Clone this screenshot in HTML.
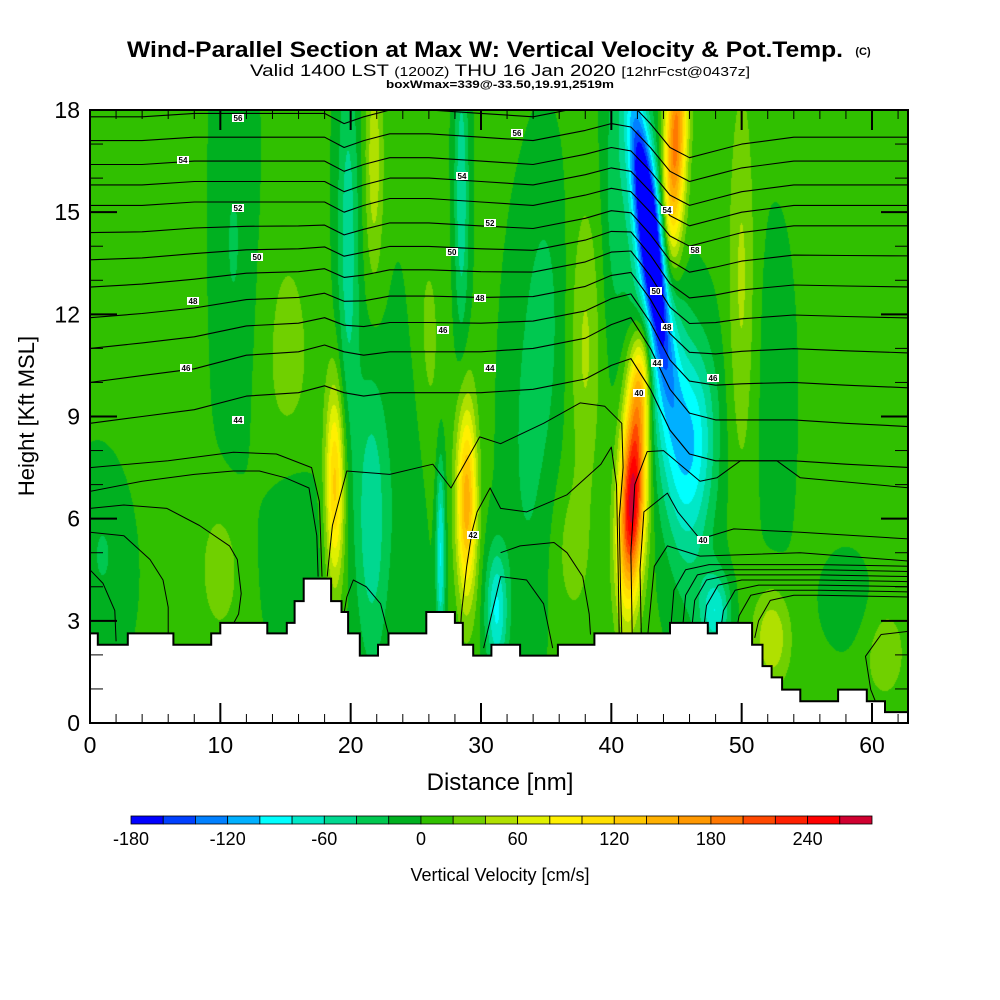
<!DOCTYPE html>
<html><head><meta charset="utf-8">
<style>
html,body{margin:0;padding:0;background:#fff;}
#wrap{position:relative;width:1000px;height:1000px;overflow:hidden;font-family:"Liberation Sans",Arial,sans-serif;}
#field{position:absolute;left:0;top:0;}
#ov{position:absolute;left:0;top:0;}
</style></head>
<body>
<div id="wrap">
<canvas id="field" width="1000" height="1000"></canvas>
<svg id="ov" width="1000" height="1000" xmlns="http://www.w3.org/2000/svg">
  <defs><clipPath id="plotclip"><rect x="90" y="110" width="818" height="613"/></clipPath></defs>
  <text x="127" y="57" textLength="716" lengthAdjust="spacingAndGlyphs" font-size="22" font-weight="bold" font-family="Liberation Sans, Arial, sans-serif">Wind-Parallel Section at Max W: Vertical Velocity &amp; Pot.Temp.</text>
  <text x="863" y="55" text-anchor="middle" font-size="11" font-weight="bold" font-family="Liberation Sans, Arial, sans-serif">(C)</text>
  <text x="250" y="76" textLength="500" lengthAdjust="spacingAndGlyphs" font-size="17" font-family="Liberation Sans, Arial, sans-serif">Valid 1400 LST <tspan font-size="13">(1200Z)</tspan> THU 16 Jan 2020 <tspan font-size="13">[12hrFcst@0437z]</tspan></text>
  <text x="386" y="88" textLength="228" lengthAdjust="spacingAndGlyphs" font-size="11" font-weight="bold" font-family="Liberation Sans, Arial, sans-serif">boxWmax=339@-33.50,19.91,2519m</text>
  <g id="contours" clip-path="url(#plotclip)"></g>
  <g id="clabels"></g>
  <g id="terrain" clip-path="url(#plotclip)"></g>
  <rect x="90" y="110" width="818" height="613" fill="none" stroke="#000" stroke-width="2"/>
  <g id="ticks"></g>
  <g id="xlabels"></g>
  <g id="ylabels"></g>
  <text x="500" y="790" text-anchor="middle" font-size="24" font-family="Liberation Sans, Arial, sans-serif">Distance [nm]</text>
  <text transform="translate(34,416) rotate(-90)" text-anchor="middle" font-size="22" font-family="Liberation Sans, Arial, sans-serif">Height [Kft MSL]</text>
  <g id="cbar"></g>
  <text x="500" y="881" text-anchor="middle" font-size="18" font-family="Liberation Sans, Arial, sans-serif">Vertical Velocity [cm/s]</text>
</svg>
</div>
<script>
// ---------- data ----------
const cbarLevels = [-180,-160,-140,-120,-100,-80,-60,-40,-20,0,20,40,60,80,100,120,140,160,180,200,220,240,260];
const cbarColors = ['#0000ff','#0040ff','#0080ff','#00b0ff','#00ffff','#00e8c8','#00d890','#00c850','#00b020','#30c000','#70d000','#b0e000','#e0f000','#fff000','#ffe000','#ffc800','#ffb000','#ff9800','#ff7800','#ff4800','#ff2000','#ff0000','#d00030'];
const cbarTickLabels = [-180,-120,-60,0,60,120,180,240];
const xTickLabels = [0,10,20,30,40,50,60];
const yTickLabels = [0,3,6,9,12,15,18];

// vertical-velocity features (cm/s)
const baseW = 3;
const featD   = [41.6,42.2,42.9,43.8,46.5,44.9,50.0,18.8,28.9,21.6,26.9,31.2,19.8,21.8,28.5,25.8,15.2,4.0,10.0,58.0,52.3,38.0,37.0,48.0,11.0,15.5,1.0,24.5,33.5,40.2,53.0,58.0,35.0,61.0];
const featH   = [6.5,10.0,14.5,11.0,8.5,17.0,13.0,7.0,6.5,6.0,5.0,3.3,14.0,16.5,15.5,11.0,10.5,13.0,4.5,11.0,2.5,11.0,5.0,3.3,14.0,5.5,5.0,7.0,8.0,15.0,10.0,3.8,12.0,2.0];
const featSD  = [0.7,0.6,0.65,1.3,1.2,0.6,0.7,0.5,0.55,0.9,0.25,0.6,0.6,0.5,0.4,1.0,1.5,3.0,1.2,4.0,1.0,0.8,1.0,0.8,1.2,1.5,1.5,1.0,1.2,0.6,1.5,1.5,1.0,1.2];
const featSH  = [2.0,1.3,2.6,4.5,2.0,2.5,4.0,2.0,2.0,3.0,2.0,1.3,4.0,2.5,3.0,3.0,3.0,4.0,1.5,6.0,1.0,3.0,1.5,0.8,4.0,2.0,2.0,4.0,4.0,3.0,4.0,1.2,3.0,1.0];
const featAmp = [270,110,-210,-85,-75,190,40,125,150,-60,-85,-85,-55,50,-60,25,25,12,28,16,55,40,25,-75,-25,-25,-25,-25,-25,-25,-20,-25,-25,25];
const featTilt= [0.1,0.1,-0.3,-0.3,0,0.1,0,0,0,0,0,0,0,0,0,0,0,0,0,0,0,0,0,0,0,0,0,0,0,0,0,0,0,0];

// terrain steps
const terrD = [0,0.6,2.9,6.4,9.3,10.0,13.6,15.1,15.7,16.4,18.5,19.3,19.8,20.7,22.1,22.9,25.8,28.0,28.6,29.4,30.8,33.0,35.9,38.7,44.5,47.4,48.1,50.8,51.6,52.3,53.1,54.5,57.4,59.6,61.0];
const terrH = [2.63,2.30,2.63,2.30,2.63,2.94,2.63,2.94,3.58,4.24,3.58,3.26,2.63,1.98,2.30,2.63,3.26,2.94,2.30,1.98,2.30,1.98,2.30,2.63,2.94,2.63,2.94,2.30,1.67,1.34,0.98,0.64,0.98,0.64,0.32];

// potential temperature contours
const thetaBaseH = [17.8,17.1,16.4,15.8,15.2,14.4,13.6,12.8,11.9,11.0,10.0,8.8];
const profD   = [0,4,8,12,16,18,19.5,21,23,26,30,34,38,40,41.5,43,44.5,46,48,50,54,58,63];
const profUp  = [0,0,0.1,0.1,0.1,0.1,-0.2,0,0.2,0.2,0.1,0,0.3,0.5,0.4,-0.2,-0.9,-1.2,-1.0,-0.8,-0.6,-0.6,-0.6];
const profMid = [0,0.2,0.4,0.8,0.9,1.1,0.9,0.8,0.9,0.9,0.9,1.0,1.3,1.7,1.9,1.0,-0.2,-0.9,-1.1,-1.1,-1.1,-1.2,-1.3];
const lowLines = [
 [[0,7.5],[6,7.7],[11,7.95],[14.3,7.9],[17,7.5],[17.6,6.5],[17.8,4.3]],
 [[18.2,4.3],[18.6,5.8],[19.7,7.4],[23,7.3],[26.3,7.6],[27.7,6.9],[29.9,8.4],[31.5,8.2],[34.8,8.8],[37.6,9.4],[39.5,9.3],[40.8,8.8],[40.9,7.5],[40.6,6],[40.7,4],[40.8,2.6]],
 [[0,6.8],[4,7.1],[8,7.3],[11,7.4],[13,7.4],[15,7.2],[16.8,6.9],[17.4,5.5],[17.5,4.3]],
 [[0,6.3],[2.6,6.4],[5.9,6.3],[8.4,5.8],[10.7,5.2],[11.3,4.8],[11.6,3.8],[11.4,3.2],[10.7,2.7]],
 [[0,5.6],[2.6,5.5],[4.6,4.8],[5.6,4.2],[6.0,3.4],[6.0,2.4]],
 [[0,4.5],[1,4.1],[1.9,3.3],[2.0,2.4]],
 [[19.4,3.0],[19.7,3.7],[20.2,4.2],[21.2,4.0],[22.3,3.5],[22.9,2.6]],
 [[28.4,2.6],[28.5,3.2],[28.9,4.6],[29.3,5.6],[29.7,6.2],[30.7,6.9],[31.5,6.3],[33.5,6.2],[36.6,6.7],[39.2,7.6],[40,8.1],[40.4,7],[40.5,5],[40.6,2.6]],
 [[31.5,5.0],[33,5.2],[35.6,5.3],[36.6,5.0],[37.8,4.3],[38.3,3.2],[38.4,2.6]],
 [[30.2,2.2],[31.5,4.3],[33.5,4.2],[34.8,3.5],[35.5,2.2]],
 [[41.6,2.6],[41.5,5],[41.8,7],[42.75,7.97],[44,8.0],[46.8,7.1],[48.1,7.2],[49.9,7.7],[52.7,7.7],[54.5,7.2],[63,6.9]],
 [[42.3,2.6],[42.2,4.5],[42.5,6.2],[44.3,6.75],[45.1,6.2],[46.8,5.4],[49.4,5.7],[54.5,5.6],[63,5.4]],
 [[42.8,2.6],[43.3,4.6],[44.3,5.2],[46.8,4.9],[54.5,5.0],[63,4.75]],
 [[63,2.7],[60.7,2.6],[59.5,1.96],[59.9,0.98],[60.3,0.6]]
];
const clusterStartD = [44.5,45.4,46.1,47.0,48.3,49.5,51.0];
const clusterRightH = [4.6,4.45,4.3,4.15,4.0,3.85,3.7];

// ---------- axes ----------
const X0=90, X1=908, Y0=723, Y1=110;
const xPerNm = (872-90)/60, yPerKft = (723-110)/18;
const xs = d => X0 + d*xPerNm;
const ys = h => Y0 - h*yPerKft;
const SVGNS='http://www.w3.org/2000/svg';
function mk(tag, attrs, parent){const e=document.createElementNS(SVGNS,tag);for(const k in attrs)e.setAttribute(k,attrs[k]);parent.appendChild(e);return e;}

// ---------- field ----------
(function(){
  const cv=document.getElementById('field'); const ctx=cv.getContext('2d');
  const rgb=cbarColors.map(c=>[parseInt(c.substr(1,2),16),parseInt(c.substr(3,2),16),parseInt(c.substr(5,2),16)]);
  const W=X1-X0, H=Y0-Y1;
  const img=ctx.createImageData(W,H);
  for(let py=0;py<H;py++){
    const h=(Y0-(Y1+py+0.5))/yPerKft;
    for(let px=0;px<W;px++){
      const d=(px+0.5)/xPerNm;
      let v=baseW;
      for(let k=0;k<featD.length;k++){
        const dh=h-featH[k];
        const cd=featD[k]+featTilt[k]*dh;
        const a=(d-cd)/featSD[k], b=dh/featSH[k];
        const e=(a*a+b*b)*0.5;
        if(e<12) v+=featAmp[k]*Math.exp(-e);
      }
      let idx=Math.floor((v+180)/20); if(idx<0)idx=0; if(idx>22)idx=22;
      const c=rgb[idx], o=(py*W+px)*4;
      img.data[o]=c[0];img.data[o+1]=c[1];img.data[o+2]=c[2];img.data[o+3]=255;
    }
  }
  ctx.putImageData(img,X0,Y1);
})();

// ---------- contours ----------
(function(){
  const g=document.getElementById('contours');
  thetaBaseH.forEach((h0,i)=>{
    const w=Math.max(0,Math.min(1,(h0-10)/5));
    let pts=[];
    for(let j=0;j<profD.length;j++){
      const disp=w*profUp[j]+(1-w)*profMid[j];
      pts.push(xs(profD[j]).toFixed(1)+','+ys(h0+disp).toFixed(1));
    }
    const p=mk('polyline',{points:pts.join(' '),fill:'none',stroke:'#000','stroke-width':'1.1','stroke-linejoin':'round'},g);
    
    
  });
  lowLines.forEach(line=>{
    const p=mk('polyline',{points:line.map(q=>xs(q[0]).toFixed(1)+','+ys(q[1]).toFixed(1)).join(' '),fill:'none',stroke:'#000','stroke-width':'1','stroke-linejoin':'round'},g);
    
    
  });
  clusterStartD.forEach((ds,i)=>{
    const hr=clusterRightH[i];
    const pts=[[ds,2.5],[ds+0.3,hr-0.7],[ds+1.2,hr-0.1],[ds+3,hr+0.05],[56,hr+0.05],[63,hr]];
    const p=mk('polyline',{points:pts.map(q=>xs(q[0]).toFixed(1)+','+ys(q[1]).toFixed(1)).join(' '),fill:'none',stroke:'#000','stroke-width':'1','stroke-linejoin':'round'},g);
    
    
  });
  const labs=[[238,118,'56'],[183,160,'54'],[238,208,'52'],[257,257,'50'],[193,301,'48'],[186,368,'46'],[238,420,'44'],[462,176,'54'],[490,223,'52'],[452,252,'50'],[480,298,'48'],[443,330,'46'],[490,368,'44'],[517,133,'56'],[667,210,'54'],[695,250,'58'],[656,291,'50'],[667,327,'48'],[657,363,'44'],[639,393,'40'],[713,378,'46'],[473,535,'42'],[703,540,'40']];
  const lg=document.getElementById('clabels');
  labs.forEach(l=>{
    const r=mk('rect',{x:l[0]-6,y:l[1]-4,width:12,height:8,fill:'#fff'},lg);
    
    
    const t=mk('text',{x:l[0],y:l[1]+3,'text-anchor':'middle','font-size':'8','font-weight':'bold','font-family':'Liberation Sans, Arial, sans-serif'},lg);
    t.textContent=l[2];
    
    
  });
})();

// ---------- terrain ----------
(function(){
  const g=document.getElementById('terrain');
  let pts=[[X0,Y0+1]];
  for(let i=0;i<terrD.length;i++){
    const x=xs(terrD[i]);
    const xn=i<terrD.length-1?xs(terrD[i+1]):X1;
    pts.push([x,ys(terrH[i])]);pts.push([Math.min(xn,X1),ys(terrH[i])]);
  }
  pts.push([X1,Y0+1]);
  const p=mk('polygon',{points:pts.map(q=>q[0].toFixed(1)+','+q[1].toFixed(1)).join(' '),fill:'#fff',stroke:'#000','stroke-width':'2'},g);
  
  
})();

// ---------- ticks & labels ----------
(function(){
  const g=document.getElementById('ticks');
  for(let d=0;d<=62;d+=2){
    const major=d%10===0, L=major?20:9, x=xs(d);
    const t1=mk('line',{x1:x,y1:Y0,x2:x,y2:Y0-L,stroke:'#000','stroke-width':major?2:1},g);
    
    
    const t2=mk('line',{x1:x,y1:Y1,x2:x,y2:Y1+L,stroke:'#000','stroke-width':major?2:1},g);
    
    
  }
  for(let h=0;h<=18;h+=1){
    const major=h%3===0, L=major?27:13, y=ys(h);
    const t1=mk('line',{x1:X0,y1:y,x2:X0+L,y2:y,stroke:'#000','stroke-width':major?2:1},g);
    
    
    const t2=mk('line',{x1:X1,y1:y,x2:X1-L,y2:y,stroke:'#000','stroke-width':major?2:1},g);
    
    
  }
  const xl=document.getElementById('xlabels');
  xTickLabels.forEach(v=>{
    const t=mk('text',{x:xs(v),y:753,'text-anchor':'middle','font-size':'23','font-family':'Liberation Sans, Arial, sans-serif'},xl);
    t.textContent=v;
    
    
  });
  const yl=document.getElementById('ylabels');
  yTickLabels.forEach(v=>{
    const t=mk('text',{x:80,y:ys(v)+8,'text-anchor':'end','font-size':'23','font-family':'Liberation Sans, Arial, sans-serif'},yl);
    t.textContent=v;
    
    
  });
  const cb=document.getElementById('cbar');
  const cx0=131, cx1=872, bw=(cx1-cx0)/cbarColors.length;
  cbarColors.forEach((c,i)=>{
    const r=mk('rect',{x:(cx0+i*bw).toFixed(2),y:816,width:bw.toFixed(2),height:8,fill:c,stroke:'#000','stroke-width':'0.8'},cb);
    
    
  });
  cbarTickLabels.forEach(v=>{
    const i=cbarLevels.indexOf(v);
    const t=mk('text',{x:(cx0+i*bw).toFixed(1),y:845,'text-anchor':'middle','font-size':'18','font-family':'Liberation Sans, Arial, sans-serif'},cb);
    t.textContent=v;
    
    
  });
})();
</script>
</body></html>
